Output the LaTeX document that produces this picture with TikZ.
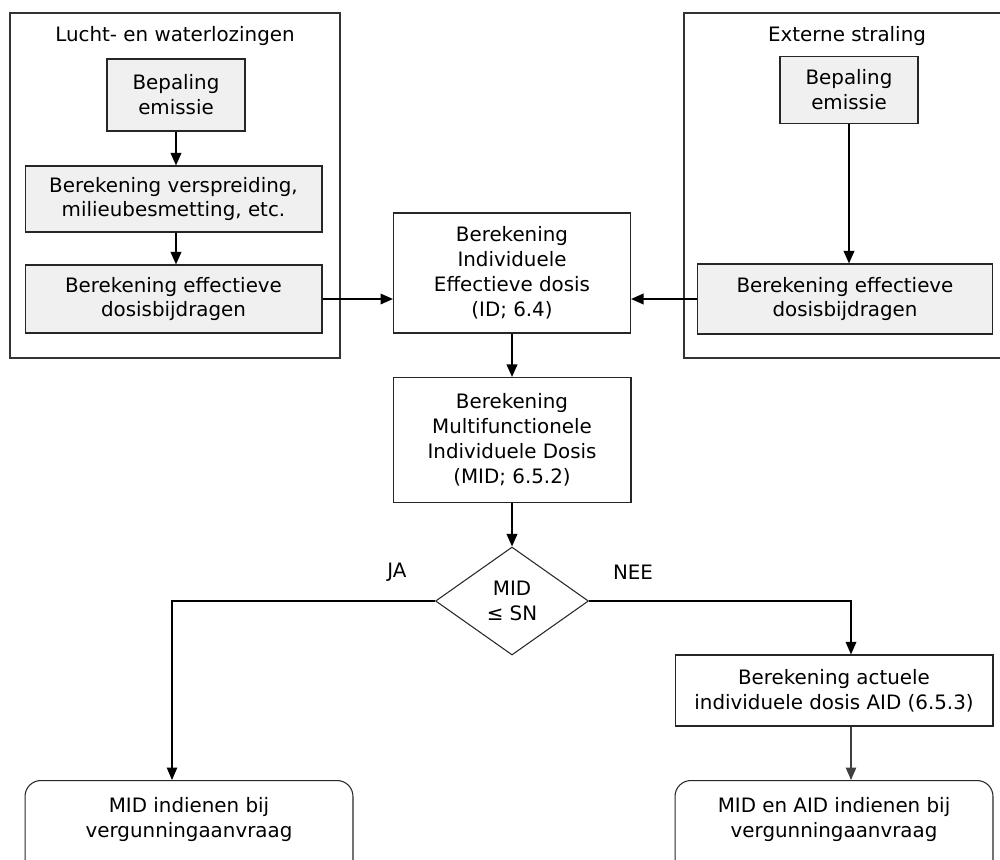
\documentclass[tikz,border=0pt]{standalone}
\usepackage{fontspec}
\setmainfont{DejaVu Sans}
\usetikzlibrary{arrows.meta,shapes.geometric}

\tikzset{
  box/.style={draw=black!85, line width=0.6pt, align=center, inner sep=0pt},
  greybox/.style={box, fill=black!6},
  eindbox/.style={box, rounded corners=9pt, inner ysep=3.4mm, text depth=1.6cm},
  kader/.style={draw=black!80, line width=0.6pt},
  pijl/.style={-{Triangle[length=2.5mm,width=2.1mm]}, line width=1.1pt},
  dunpijl/.style={-{Triangle[length=2.5mm,width=2.1mm]}, line width=0.6pt},
}

\begin{document}
\begin{tikzpicture}[x=0.02cm,y=-0.02cm,font=\fontsize{11.3}{14.2}\selectfont]
\useasboundingbox (0,0) rectangle (1000,859);
% kaders
\draw[kader] (10,13) rectangle (340,358);
\draw[kader] (684,13) rectangle (1010,358);
\node (titelL) at (175,36) {Lucht- en waterlozingen};
\node (titelR) at (847,36) {Externe straling};

% lucht- en waterlozingen
\node[greybox, minimum width=2.76cm, minimum height=1.44cm] (emisL) at (176,95) {Bepaling\\emissie};
\node[greybox, minimum width=5.94cm, minimum height=1.32cm] (verspr) at (173.5,199) {Berekening verspreiding,\\milieubesmetting, etc.};
\node[greybox, minimum width=5.94cm, minimum height=1.36cm] (effL) at (173.5,299) {Berekening effectieve\\dosisbijdragen};

% externe straling
\node[greybox, minimum width=2.76cm, minimum height=1.34cm] (emisR) at (849,90) {Bepaling\\emissie};
\node[greybox, minimum width=5.9cm, minimum height=1.4cm] (effR) at (845,299) {Berekening effectieve\\dosisbijdragen};

% midden
\node[box, minimum width=4.74cm, minimum height=2.4cm] (ID) at (512,273) {Berekening\\Individuele\\Effectieve dosis\\(ID; 6.4)};
\node[box, minimum width=4.76cm, minimum height=2.5cm] (MID) at (512,440) {Berekening\\Multifunctionele\\Individuele Dosis\\(MID; 6.5.2)};
\node[box, diamond, aspect=1.4, minimum width=3.06cm, minimum height=2.16cm] (toets) at (512,601) {MID\\≤ SN};
\node (ja) at (397,572) {JA};
\node (nee) at (633,572) {NEE};

\node[box, minimum width=6.36cm, minimum height=1.42cm] (AID) at (834,690.5) {Berekening actuele\\individuele dosis AID (6.5.3)};
\node[eindbox, anchor=north, minimum width=6.56cm] (eindL) at (189,780) {MID indienen bij\\vergunningaanvraag};
\node[eindbox, anchor=north, minimum width=6.36cm] (eindR) at (834,780) {MID en AID indienen bij\\vergunningaanvraag};

\coordinate (hoekL) at (172,601);
\coordinate (hoekR) at (851,601);

% pijlen
\draw[pijl] (emisL.south) -- (emisL.south |- verspr.north);
\draw[pijl] (emisL.south |- verspr.south) -- (emisL.south |- effL.north);
\draw[pijl] (emisR.south) -- (emisR.south |- effR.north);
\draw[pijl] (effL.east) -- (effL.east -| ID.west);
\draw[pijl] (effR.west) -- (effR.west -| ID.east);
\draw[pijl] (ID) -- (MID);
\draw[pijl] (MID) -- (toets);
\draw[dunpijl] (toets.west) -- (hoekL) -- (hoekL |- eindL.north);
\draw[pijl, line width=0.9pt] (toets.east) -- (hoekR) -- (hoekR |- AID.north);
\draw[dunpijl, black!75] (hoekR |- AID.south) -- (hoekR |- eindR.north);
\end{tikzpicture}
\end{document}
